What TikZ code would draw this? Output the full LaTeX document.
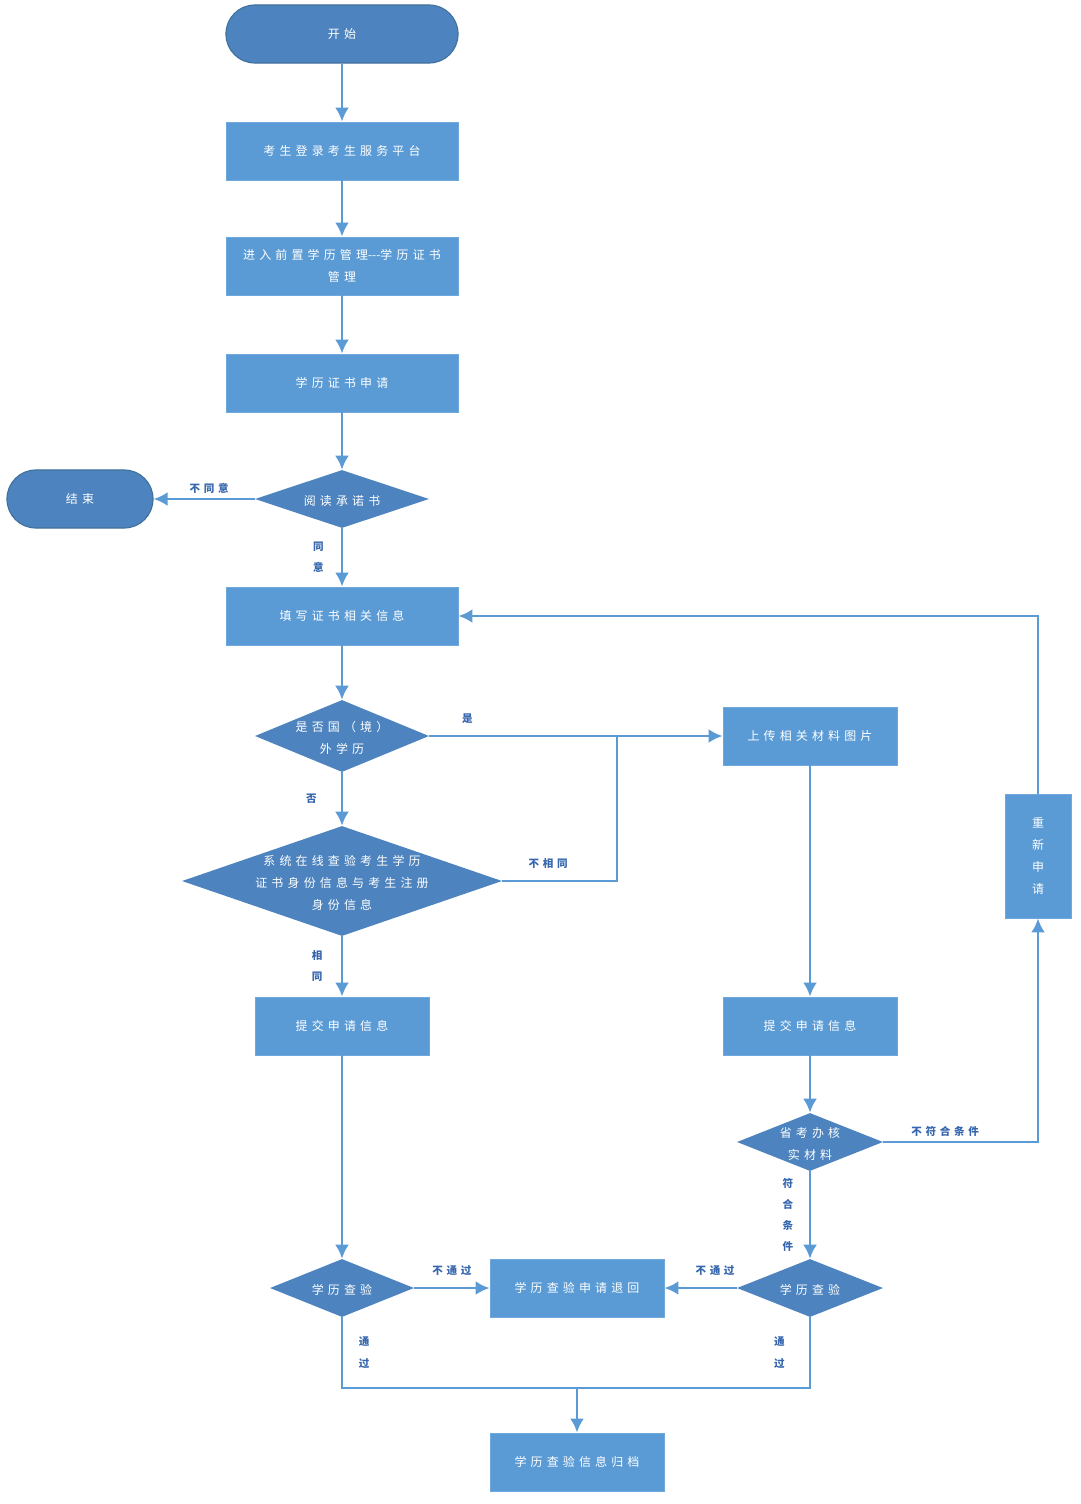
\documentclass[tikz,border=0pt]{standalone}
\usepackage{fontspec}
\setmainfont{Noto Sans CJK SC}[LetterSpace=35]
\usetikzlibrary{shapes.geometric,arrows.meta}
\definecolor{boxblue}{HTML}{5B9BD5}
\definecolor{boxline}{HTML}{6FA8DC}
\definecolor{darkblue}{HTML}{4D83BE}
\definecolor{termline}{HTML}{41719C}
\definecolor{lineblue}{HTML}{5B9BD5}
\definecolor{labblue}{HTML}{3566AE}
\newcommand{\dtxt}[1]{\makebox[0pt]{\smash{\raisebox{-3.5pt}{\begin{tabular}{@{}c@{}}#1\end{tabular}}}}}
\begin{document}
\begin{tikzpicture}[x=0.025cm,y=-0.025cm,font=\fontsize{8.5}{15.5}\selectfont,
	box/.style={rectangle,fill=boxblue,draw=boxline,line width=0.6pt,text=white,minimum height=1.45cm,align=center,inner sep=2pt},
	wide/.style={box,minimum width=5.8cm},
	mid/.style={box,minimum width=4.35cm},
	term/.style={rectangle,rounded corners=0.72cm,fill=darkblue,draw=termline,line width=0.8pt,text=white,minimum height=1.45cm},
	diam/.style={diamond,fill=darkblue,text=white,inner sep=0pt},
	link/.style={draw=lineblue,line width=2pt},
	flow/.style={link,-{Latex[length=3.5mm,width=3.5mm]}},
	lab/.style={text=labblue,font=\bfseries\fontsize{7.5}{15}\selectfont,align=center,inner sep=3pt}]
	\path[use as bounding box,fill=white] (0,0) rectangle (1080,1504);
	% main column
	\node[term,minimum width=5.8cm] (start) at (342,34) {开始};
	\node[wide] (login) at (342,151) {考生登录考生服务平台};
	\node[wide] (enter) at (342,266) {进入前置学历管理{\addfontfeature{LetterSpace=0}-{}-{}-}学历证书\\管理};
	\node[wide] (apply) at (342,383) {学历证书申请};
	\node[diam,minimum width=4.35cm,minimum height=1.45cm] (read) at (342,499) {\dtxt{阅读承诺书}};
	\node[term,minimum width=3.65cm] (end) at (80,499) {结束};
	\node[wide] (fill) at (342,616) {填写证书相关信息};
	\node[diam,minimum width=4.35cm,minimum height=1.8cm] (abroad) at (342,736) {\dtxt{是否国（境）\\外学历}};
	\node[diam,minimum width=8cm,minimum height=2.75cm] (check) at (342,881) {\dtxt{系统在线查验考生学历\\证书身份信息与考生注册\\身份信息}};
	\node[mid] (lsubmit) at (342,1026) {提交申请信息};
	\node[diam,minimum width=3.6cm,minimum height=1.45cm] (lcheck) at (342,1288) {\dtxt{学历查验}};
	% right column
	\node[mid] (upload) at (810,736) {上传相关材料图片};
	\node[mid] (rsubmit) at (810,1026) {提交申请信息};
	\node[diam,minimum width=3.65cm,minimum height=1.45cm] (verify) at (810,1142) {\dtxt{省考办核\\实材料}};
	\node[diam,minimum width=3.65cm,minimum height=1.45cm] (rcheck) at (810,1288) {\dtxt{学历查验}};
	\node[box,minimum width=1.65cm,minimum height=3.1cm] (redo) at (1038,856) {重\\新\\申\\请};
	\node[mid] (back) at (577,1288) {学历查验申请退回};
	\node[mid] (archive) at (577,1462) {学历查验信息归档};
	\coordinate (join) at (617,736);
	\coordinate (merge) at (577,1388);
	% connectors
	\draw[flow] (start) -- (login);
	\draw[flow] (login) -- (enter);
	\draw[flow] (enter) -- (apply);
	\draw[flow] (apply) -- (read);
	\draw[flow] (read.west) -- node[lab,above,pos=0.45]{不同意} (end.east);
	\draw[flow] (read.south) -- node[lab,left,xshift=-9pt]{同\\意} (fill.north);
	\draw[flow] (fill) -- (abroad.north);
	\draw[flow] (abroad.east) -- node[lab,above,pos=0.13,yshift=5pt]{是} (upload.west);
	\draw[flow] (abroad.south) -- node[lab,left,xshift=-14pt]{否} (check.north);
	\draw[link] (check.east) -| node[lab,above,pos=0.2,yshift=5pt]{不相同} (join);
	\draw[flow] (check.south) -- node[lab,left,xshift=-10pt]{相\\同} (lsubmit.north);
	\draw[flow] (upload) -- (rsubmit);
	\draw[flow] (rsubmit) -- (verify.north);
	\draw[flow] (verify.east) -| node[lab,above,pos=0.2]{不符合条件} (redo.south);
	\draw[flow] (redo.north) |- (fill.east);
	\draw[flow] (verify.south) -- node[lab,left,xshift=-8pt]{符\\合\\条\\件} (rcheck.north);
	\draw[flow] (lsubmit) -- (lcheck.north);
	\draw[flow] (lcheck.east) -- node[lab,above,yshift=5pt]{不通过} (back.west);
	\draw[flow] (rcheck.west) -- node[lab,above,pos=0.3,yshift=5pt]{不通过} (back.east);
	\draw[link] (lcheck.south) |- node[lab,right,pos=0.25,xshift=8pt]{通\\过} (merge);
	\draw[link] (rcheck.south) |- node[lab,left,pos=0.25,xshift=-14pt]{通\\过} (merge);
	\draw[flow] (merge) -- (archive);
\end{tikzpicture}
\end{document}
